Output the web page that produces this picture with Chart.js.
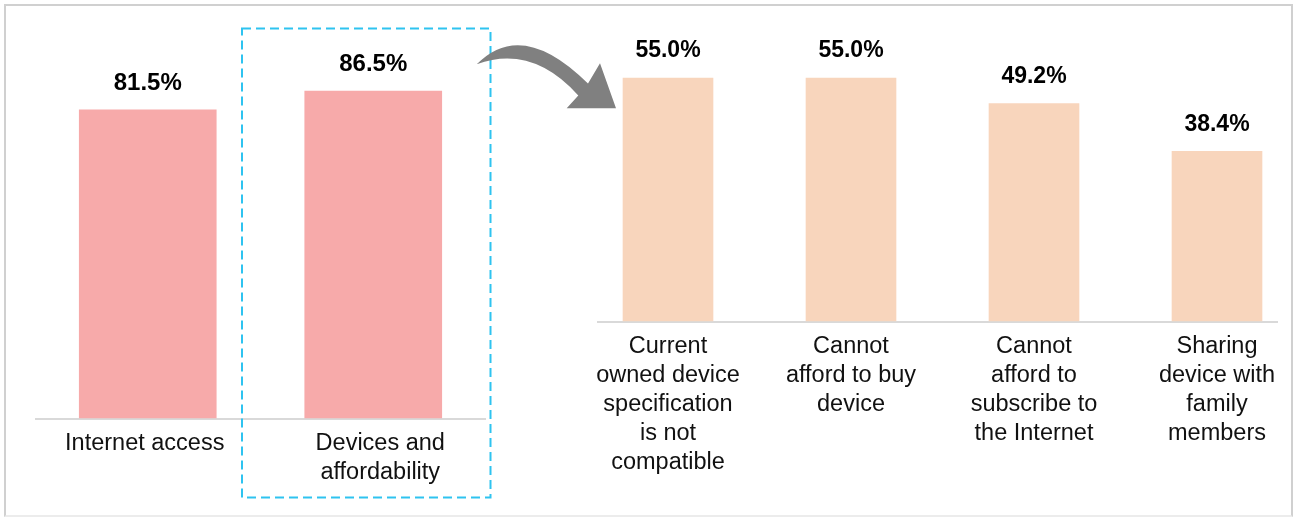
<!DOCTYPE html>
<html>
<head>
<meta charset="utf-8">
<script src="https://cdn.jsdelivr.net/npm/chart.js@4/dist/chart.umd.min.js"></script>
<style>
  html, body { margin: 0; padding: 0; background: #fff; }
  #wrap { position: relative; width: 1293px; height: 517px; overflow: hidden; background: #fff; }
  #frame { position: absolute; left: 4px; top: 4px; width: 1285px; height: 509px;
           border: 2px solid #d0d0d0; border-bottom-color: #ececec; }
  canvas { position: absolute; left: 0; top: 0; }
</style>
</head>
<body>
<div id="wrap">
  <div id="frame"></div>
  <canvas id="left" width="1293" height="517"></canvas>
  <canvas id="right" width="1293" height="517"></canvas>
</div>
<script>
// ---- Data ----
const leftCategories = [["Internet access"], ["Devices and", "affordability"]];
const leftValues = [81.5, 86.5];

const rightCategories = [
  ["Current", "owned device", "specification", "is not", "compatible"],
  ["Cannot", "afford to buy", "device"],
  ["Cannot", "afford to", "subscribe to", "the Internet"],
  ["Sharing", "device with", "family", "members"]
];
const rightValues = [55.0, 55.0, 49.2, 38.4];

// ---- Helpers ----
const FONT = '"Liberation Sans", Arial, Helvetica, sans-serif';

function makeLabelPlugin(cfg) {
  return {
    id: 'labels_' + cfg.name,
    beforeDatasetsDraw(chart) {
      const ctx = chart.ctx;
      const xs = chart.scales.x;
      const y0 = chart.scales.y.getPixelForValue(0);
      const n = chart.data.labels.length;
      const x1 = xs.getPixelForValue(0) + cfg.axisLeftOffset;
      const x2 = xs.getPixelForValue(n - 1) + cfg.axisRightOffset;
      ctx.save();
      ctx.strokeStyle = '#d9d9d9';
      ctx.lineWidth = 2;
      ctx.beginPath();
      ctx.moveTo(x1, y0 + 1);
      ctx.lineTo(x2, y0 + 1);
      ctx.stroke();
      ctx.restore();
    },
    afterDatasetsDraw(chart) {
      const ctx = chart.ctx;
      const meta = chart.getDatasetMeta(0);
      const ds = chart.data.datasets[0];
      const y0 = chart.scales.y.getPixelForValue(0);
      ctx.save();
      ctx.fillStyle = '#000';
      ctx.textAlign = 'center';
      ctx.textBaseline = 'middle';
      ctx.font = 'bold ' + cfg.valueFont + 'px ' + FONT;
      meta.data.forEach((bar, i) => {
        ctx.fillText(ds.data[i].toFixed(1) + '%', bar.x, bar.y - 27);
      });
      ctx.textBaseline = 'alphabetic';
      ctx.font = cfg.catFont + 'px ' + FONT;
      ctx.fillStyle = '#111';
      chart.data.labels.forEach((lines, i) => {
        const x = chart.scales.x.getPixelForValue(i) + (cfg.catShift ? cfg.catShift[i] : 0);
        lines.forEach((t, k) => {
          ctx.fillText(t, x, y0 + cfg.firstBaseline + k * cfg.lineHeight);
        });
      });
      ctx.restore();
    }
  };
}

const decorPlugin = {
  id: 'decor',
  afterDraw(chart) {
    const ctx = chart.ctx;
    ctx.save();
    ctx.strokeStyle = '#2ec3f0';
    ctx.lineWidth = 2;
    ctx.setLineDash([9, 5]);
    ctx.strokeRect(242, 28.5, 248.5, 469);
    ctx.setLineDash([]);
    ctx.fillStyle = '#808080';
    ctx.beginPath();
    ctx.moveTo(476.7, 64.3);
    ctx.quadraticCurveTo(522, 18, 588, 83.5);
    ctx.lineTo(600, 63.3);
    ctx.lineTo(616, 108.3);
    ctx.lineTo(566.7, 108.3);
    ctx.lineTo(578.3, 95.5);
    ctx.quadraticCurveTo(532, 44, 476.7, 64.3);
    ctx.closePath();
    ctx.fill();
    ctx.restore();
  }
};

Chart.defaults.font.family = FONT;

new Chart(document.getElementById('left'), {
  type: 'bar',
  data: {
    labels: leftCategories,
    datasets: [{ data: leftValues, backgroundColor: '#f7aaaa', borderWidth: 0, barThickness: 137, clip: false }]
  },
  options: {
    responsive: false,
    animation: false,
    devicePixelRatio: 1,
    layout: { padding: { left: 35, right: 807, top: 40, bottom: 99 } },
    plugins: { legend: { display: false }, tooltip: { enabled: false } },
    scales: {
      x: { type: 'category', display: false, offset: true },
      y: { display: false, min: 0, max: 100 }
    }
  },
  plugins: [makeLabelPlugin({ name: 'l', axisLeftOffset: -112.75, axisRightOffset: 112.75,
                              valueFont: 24, catFont: 23.5, firstBaseline: 32, lineHeight: 28.5,
                              catShift: [-3, 7] }), decorPlugin]
});

new Chart(document.getElementById('right'), {
  type: 'bar',
  data: {
    labels: rightCategories,
    datasets: [{ data: rightValues, backgroundColor: '#f8d5bc', borderWidth: 0, barThickness: 90, clip: false }]
  },
  options: {
    responsive: false,
    animation: false,
    devicePixelRatio: 1,
    layout: { padding: { left: 668, right: 76, top: 56, bottom: 196 } },
    plugins: { legend: { display: false }, tooltip: { enabled: false } },
    scales: {
      x: { type: 'category', display: false, offset: false },
      y: { display: false, min: 0, max: 60 }
    }
  },
  plugins: [makeLabelPlugin({ name: 'r', axisLeftOffset: -71, axisRightOffset: 61,
                              valueFont: 23, catFont: 23.5, firstBaseline: 32, lineHeight: 29 })]
});
</script>
</body>
</html>
